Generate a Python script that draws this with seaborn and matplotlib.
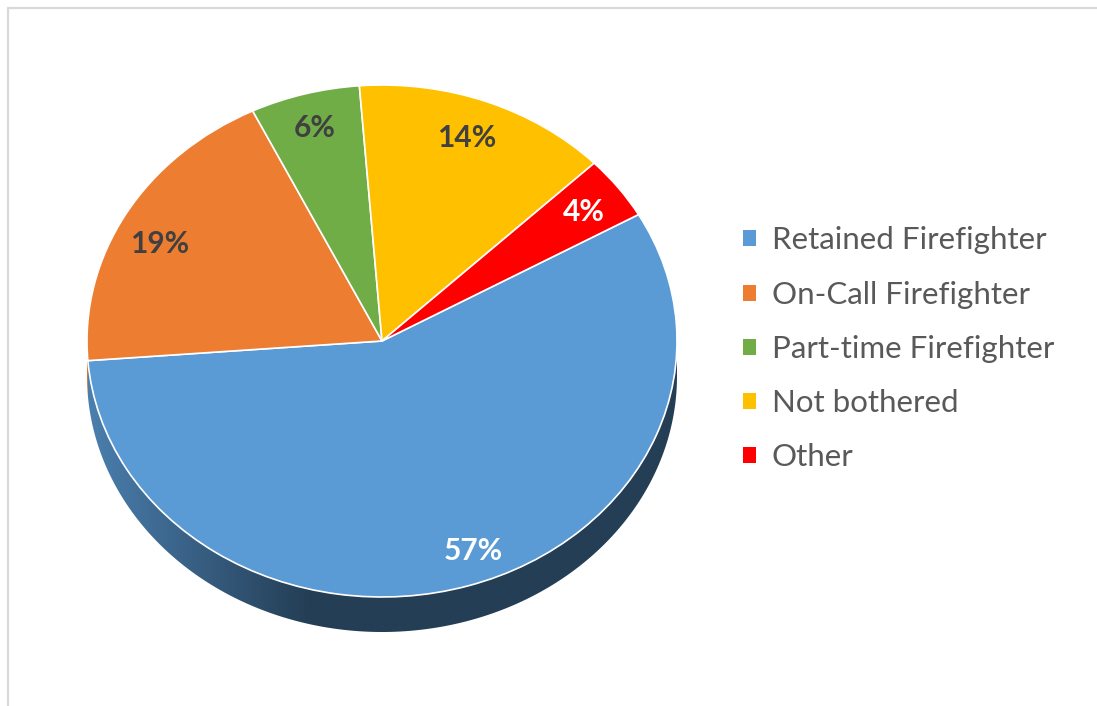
import numpy as np
import matplotlib
matplotlib.use("Agg")
import matplotlib.pyplot as plt
from matplotlib.patches import Polygon, Patch
from matplotlib.lines import Line2D
from matplotlib.colors import to_rgb
import seaborn as sns

# Survey shares (percent), in drawing order (clockwise)
categories = ["Retained Firefighter", "On-Call Firefighter", "Part-time Firefighter",
              "Not bothered", "Other"]
shares = [57, 19, 6, 14, 4]
slice_colors = ["#5B9BD5", "#ED7D31", "#70AD47", "#FFC000", "#FF0000"]
label_colors = ["white", "#404040", "#404040", "#404040", "white"]

sns.set_theme(style="white")
plt.rcParams["font.family"] = ["Lato", "DejaVu Sans"]
palette = sns.color_palette(slice_colors)

W, H = 1097, 706
fig = plt.figure(figsize=(W / 100, H / 100), dpi=100)
fig.patch.set_facecolor("white")

# chart-area border (top and left edges)
bx, by = 8 / W, 1 - 8 / H
fig.add_artist(Line2D([bx, 1.0], [by, by], transform=fig.transFigure,
                      color="#d9d9d9", linewidth=1.6))
fig.add_artist(Line2D([bx, bx], [0.0, by], transform=fig.transFigure,
                      color="#d9d9d9", linewidth=1.6))

# tilted pie: top face is an ellipse, side wall below it
cx, cy, a, b, depth = 382, 341, 295, 256, 35
ax = fig.add_axes([(cx - a) / W, (H - (cy + b + depth)) / H, 2 * a / W, (2 * b + depth) / H])
d = depth / b

wedges, texts, autotexts = ax.pie(
    shares, colors=palette, startangle=29.6, counterclock=False,
    autopct="%.0f%%", pctdistance=0.85,
    wedgeprops=dict(edgecolor="white", linewidth=1.2),
    textprops=dict(fontsize=21.5, fontweight="bold"),
)

# side wall under the front half of the ellipse
def side_piece(t1, t2):
    for shift in (-360, 0, 360):
        lo, hi = max(t1 + shift, 180), min(t2 + shift, 360)
        if hi > lo:
            return lo, hi
    return None

xs_img = np.linspace(-1, 1, 400)
shade = np.interp(xs_img, [-1, -0.25, 1], [0.82, 0.40, 0.40])
for w, col in zip(wedges, slice_colors):
    seg = side_piece(w.theta1, w.theta2)
    if seg is None:
        continue
    th = np.radians(np.linspace(seg[0], seg[1], 200))
    top = np.column_stack([np.cos(th), np.sin(th)])
    bot = np.column_stack([np.cos(th[::-1]), np.sin(th[::-1]) - d])
    poly = Polygon(np.vstack([top, bot]), closed=True, facecolor="none",
                   edgecolor="none", transform=ax.transData)
    ax.add_patch(poly)
    rgb = np.array(to_rgb(col))
    img = (shade[None, :, None] * rgb[None, None, :]).repeat(2, axis=0)
    im = ax.imshow(img, extent=(-1, 1, -1 - d, 1), aspect="auto", zorder=0.5,
                   interpolation="bilinear")
    im.set_clip_path(poly)

ax.set_aspect("auto")
ax.set_xlim(-1, 1)
ax.set_ylim(-1 - d, 1)
ax.axis("off")

# data labels
nudges = [(0.06, -0.007), (-0.015, -0.043), (-0.004, 0.012), (-0.014, 0.0), (0.005, -0.005)]
for t, c, (nx, ny) in zip(autotexts, label_colors, nudges):
    x, y = t.get_position()
    t.set_position((x + nx, y + ny))
    t.set_color(c)

handles = [Patch(facecolor=c, edgecolor="none") for c in slice_colors]
fig.legend(handles, categories, loc="center left", bbox_to_anchor=(743 / W, 1 - 349 / H),
           frameon=False, fontsize=22.5, labelcolor="#595959", handlelength=0.42,
           handleheight=0.42, handletextpad=0.5, labelspacing=0.84,
           borderaxespad=0, borderpad=0)

fig.savefig("out.png", dpi=100, facecolor="white")
